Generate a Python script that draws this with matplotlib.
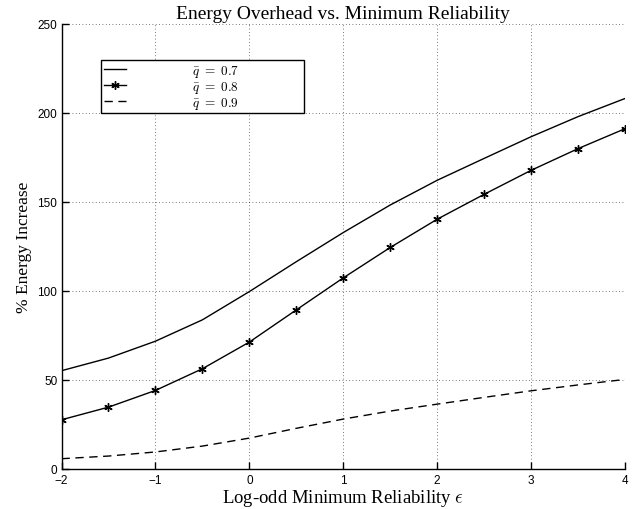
import matplotlib
matplotlib.use("Agg")
import matplotlib.pyplot as plt

eps = [-2, -1.5, -1, -0.5, 0, 0.5, 1, 1.5, 2, 2.5, 3, 3.5, 4]
q07 = [55.0, 62.1, 71.6, 83.6, 99.5, 116.3, 132.7, 148.2, 162.1, 174.4, 186.6, 197.9, 208.1]
q08 = [27.4, 34.5, 43.9, 56.1, 71.1, 89.2, 107.2, 124.3, 140.2, 154.2, 167.7, 179.9, 191.1]
q09 = [5.5, 7.0, 9.3, 12.6, 17.1, 22.6, 27.8, 32.3, 36.2, 40.0, 43.7, 47.0, 50.1]
labels = [r'$\bar{q}\ =\ 0.7$', r'$\bar{q}\ =\ 0.8$', r'$\bar{q}\ =\ 0.9$']
xticks = [-2, -1, 0, 1, 2, 3, 4]
yticks = [0, 50, 100, 150, 200, 250]

plt.rcParams['mathtext.fontset'] = 'cm'
fig = plt.figure(figsize=(6.43, 5.10), dpi=100)
W, H = 643, 510
x0, x1, y0, y1 = 61.5, 625, 469.5, 25
ax = fig.add_axes([x0/W, 1-y0/H, (x1-x0)/W, (y0-y1)/H])

ax.plot(eps, q07, color='black', lw=1.0, label=labels[0])
ax.plot(eps, q08, color='black', lw=1.0, marker=(6, 2, 0), ms=6, mew=1.0, label=labels[1])
ax.plot(eps, q09, color='black', lw=1.0, ls=(0, (6, 4)), label=labels[2])

ax.set_xlim(-2, 4)
ax.set_ylim(0, 250)
ax.set_xticks(xticks)
ax.set_yticks(yticks)
ax.set_xticklabels(['\u22122', '\u22121', '0', '1', '2', '3', '4'], family='Liberation Sans', fontsize=8.5)
ax.set_yticklabels([str(v) for v in yticks], family='Liberation Sans', fontsize=8.5)
ax.tick_params(direction='in', length=5, width=1.0, top=False, right=False)
ax.tick_params(axis='x', pad=4)
ax.tick_params(axis='y', pad=3)
ax.grid(True, ls=(0, (1, 3)), color='black', lw=0.6, alpha=0.7)
for s in ['top', 'right']:
    ax.spines[s].set_visible(False)
for s in ['left', 'bottom']:
    ax.spines[s].set_linewidth(1.0)

ax.set_title('Energy Overhead vs. Minimum Reliability', family='Liberation Serif', fontsize=14, pad=4)
ax.set_xlabel(r'Log-odd Minimum Reliability $\epsilon$', family='Liberation Serif', fontsize=13.5, labelpad=1)
ax.set_ylabel('% Energy Increase', family='Liberation Serif', fontsize=12.5, labelpad=4)

# legend box: x 101..304, top 61
lx0, lx1, ly1, ly0 = 101, 304, 61, 105
bb = ((lx0-x0)/(x1-x0), (y0-ly0)/(y0-y1), (lx1-lx0)/(x1-x0), (ly0-ly1)/(y0-y1))
leg = ax.legend(loc='upper left', bbox_to_anchor=bb, mode='expand',
                frameon=True, fancybox=False, edgecolor='black', framealpha=1,
                fontsize=9.5, handlelength=1.7, handletextpad=5.0, borderpad=0.2,
                labelspacing=0.0, borderaxespad=0)
leg.get_frame().set_linewidth(1.0)

fig.savefig('out.png', dpi=100)
